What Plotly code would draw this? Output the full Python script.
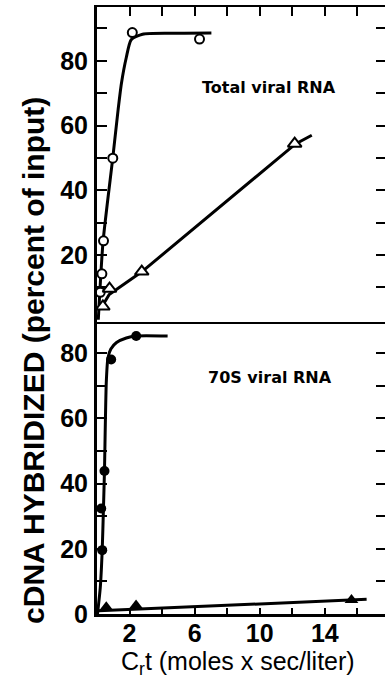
import plotly.graph_objects as go

# ---------------- data ----------------
# Top panel: Total viral RNA
total_circle_ct = [0.20, 0.30, 0.40, 0.97, 2.17, 6.30]
total_circle_pct = [8.5, 14.2, 24.4, 49.9, 88.7, 86.7]
total_circle_curve_ct = [0.08, 0.37, 0.97, 1.30, 1.50, 1.80, 2.10, 2.80, 4.50, 7.03]
total_circle_curve_pct = [0.0, 24.0, 50.0, 65.0, 73.0, 81.0, 86.5, 88.2, 88.5, 88.6]
total_triangle_ct = [0.36, 0.77, 2.75, 12.15]
total_triangle_pct = [4.1, 9.6, 14.9, 54.4]
total_triangle_line_ct = [0.30, 0.75, 2.75, 12.20, 13.20]
total_triangle_line_pct = [4.0, 7.8, 14.8, 54.3, 57.0]

# Bottom panel: 70S viral RNA
s70_circle_ct = [0.32, 0.26, 0.46, 0.87, 2.41]
s70_circle_pct = [19.6, 32.4, 43.9, 78.1, 85.3]
s70_circle_curve_ct = [0.03, 0.20, 0.32, 0.40, 0.46, 0.57, 0.67, 0.85, 1.20, 1.80, 2.40, 4.34]
s70_circle_curve_pct = [0.0, 8.0, 19.6, 33.0, 44.0, 71.0, 78.5, 81.3, 83.3, 84.7, 85.3, 85.3]
s70_triangle_ct = [0.57, 2.40, 15.64]
s70_triangle_pct = [2.1, 2.6, 4.3]
s70_triangle_line_ct = [0.10, 16.57]
s70_triangle_line_pct = [1.0, 4.5]

# axis ticks
x_tickvals = [2, 4, 6, 8, 10, 12, 14, 16]
x_ticktext = ["2", "", "6", "", "10", "", "14", ""]
top_y_tickvals = [10, 20, 30, 40, 50, 60, 70, 80, 90]
top_y_ticktext = ["", "20", "", "40", "", "60", "", "80", ""]
bot_y_tickvals = [0, 10, 20, 30, 40, 50, 60, 70, 80]
bot_y_ticktext = ["0", "", "20", "", "40", "", "60", "", "80"]

X_RANGE = [0, 17.7]
TOP_Y_RANGE = [-0.7, 96.6]
BOT_Y_RANGE = [0, 89.6]

BLACK = "black"
LW = 3

fig = go.Figure()

# ---- top panel ----
fig.add_trace(go.Scatter(x=total_circle_curve_ct, y=total_circle_curve_pct, mode="lines",
                         line=dict(color=BLACK, width=LW, shape="spline", smoothing=0.6),
                         xaxis="x2", yaxis="y2", showlegend=False, hoverinfo="skip"))
fig.add_trace(go.Scatter(x=total_triangle_line_ct, y=total_triangle_line_pct, mode="lines",
                         line=dict(color=BLACK, width=LW),
                         xaxis="x2", yaxis="y2", showlegend=False, hoverinfo="skip"))
fig.add_trace(go.Scatter(x=total_circle_ct, y=total_circle_pct, mode="markers",
                         marker=dict(symbol="circle", size=9, color="white",
                                     line=dict(color=BLACK, width=2)),
                         xaxis="x2", yaxis="y2", showlegend=False, cliponaxis=False))
fig.add_trace(go.Scatter(x=total_triangle_ct, y=total_triangle_pct, mode="markers",
                         marker=dict(symbol="triangle-up", size=12, color="white",
                                     line=dict(color=BLACK, width=2)),
                         xaxis="x2", yaxis="y2", showlegend=False, cliponaxis=False))

# ---- bottom panel ----
fig.add_trace(go.Scatter(x=s70_circle_curve_ct, y=s70_circle_curve_pct, mode="lines",
                         line=dict(color=BLACK, width=LW, shape="spline", smoothing=0.6),
                         xaxis="x", yaxis="y", showlegend=False, hoverinfo="skip"))
fig.add_trace(go.Scatter(x=s70_triangle_line_ct, y=s70_triangle_line_pct, mode="lines",
                         line=dict(color=BLACK, width=LW),
                         xaxis="x", yaxis="y", showlegend=False, hoverinfo="skip"))
fig.add_trace(go.Scatter(x=s70_circle_ct, y=s70_circle_pct, mode="markers",
                         marker=dict(symbol="circle", size=10, color=BLACK),
                         xaxis="x", yaxis="y", showlegend=False, cliponaxis=False))
fig.add_trace(go.Scatter(x=s70_triangle_ct, y=s70_triangle_pct, mode="markers",
                         marker=dict(symbol="triangle-up", size=12, color=BLACK),
                         xaxis="x", yaxis="y", showlegend=False, cliponaxis=False))

# invisible traces so the right-hand tick axes are drawn
fig.add_trace(go.Scatter(x=[None], y=[None], xaxis="x", yaxis="y3", showlegend=False))
fig.add_trace(go.Scatter(x=[None], y=[None], xaxis="x2", yaxis="y4", showlegend=False))

tickfont = dict(family="Liberation Sans, Arial, sans-serif", size=25, color=BLACK, weight="bold")
SPLIT = 0.481

common = dict(showgrid=False, zeroline=False, linecolor=BLACK, tickcolor=BLACK, automargin=False)

fig.update_layout(
    width=385, height=680,
    margin=dict(l=97, r=0, t=7, b=66),
    paper_bgcolor="white", plot_bgcolor="white",
    showlegend=False,
    xaxis=dict(domain=[0, 1], anchor="y", range=X_RANGE, showline=True, linewidth=LW,
               ticks="inside", ticklen=6, tickwidth=2, tickvals=x_tickvals, ticktext=x_ticktext,
               tickfont=tickfont, ticklabelstandoff=-5, **common),
    yaxis=dict(domain=[0, SPLIT], anchor="x", range=BOT_Y_RANGE, showline=True, linewidth=LW,
               ticks="inside", ticklen=10, tickwidth=2, tickvals=bot_y_tickvals,
               ticktext=bot_y_ticktext, tickfont=tickfont, ticklabelstandoff=1, **common),
    xaxis2=dict(domain=[0, 1], anchor="y2", matches="x", range=X_RANGE, side="top",
                showline=True, mirror=True, linewidth=2, ticks="inside", ticklen=9,
                tickwidth=2, tickvals=x_tickvals, showticklabels=False, **common),
    yaxis2=dict(domain=[SPLIT, 1], anchor="x2", range=TOP_Y_RANGE, showline=True, linewidth=LW,
                ticks="inside", ticklen=10, tickwidth=2, tickvals=top_y_tickvals,
                ticktext=top_y_ticktext, tickfont=tickfont, ticklabelstandoff=1, **common),
    yaxis3=dict(overlaying="y", anchor="x", side="right", range=BOT_Y_RANGE, showline=False,
                ticks="inside", ticklen=9, tickwidth=2, tickvals=bot_y_tickvals[1:],
                showticklabels=False, **common),
    yaxis4=dict(overlaying="y2", anchor="x2", side="right", range=TOP_Y_RANGE, showline=False,
                ticks="inside", ticklen=9, tickwidth=2, tickvals=top_y_tickvals,
                showticklabels=False, **common),
)

fig.add_annotation(text="cDNA HYBRIDIZED (percent of input)", xref="paper", yref="paper",
                   x=-0.22, y=0.418, textangle=-90, showarrow=False,
                   xanchor="center", yanchor="middle",
                   font=dict(family="Liberation Sans, Arial, sans-serif", size=30,
                             color=BLACK, weight="bold"))
fig.add_annotation(text="C<sub>r</sub>t (moles x sec/liter)", xref="paper", yref="paper",
                   x=0.49, y=-0.081, showarrow=False, xanchor="center", yanchor="middle",
                   font=dict(family="Liberation Sans, Arial, sans-serif", size=25, color=BLACK))
fig.add_annotation(text="Total viral RNA", xref="paper", yref="paper",
                   x=0.597, y=0.8666, showarrow=False, xanchor="center", yanchor="middle",
                   font=dict(family="DejaVu Sans, sans-serif", size=16, color=BLACK, weight="bold"))
fig.add_annotation(text="70S viral RNA", xref="paper", yref="paper",
                   x=0.601, y=0.3904, showarrow=False, xanchor="center", yanchor="middle",
                   font=dict(family="DejaVu Sans, sans-serif", size=16, color=BLACK, weight="bold"))

fig.write_html("out.html", config={"displayModeBar": False},
               post_script="document.body.style.margin='0';")
